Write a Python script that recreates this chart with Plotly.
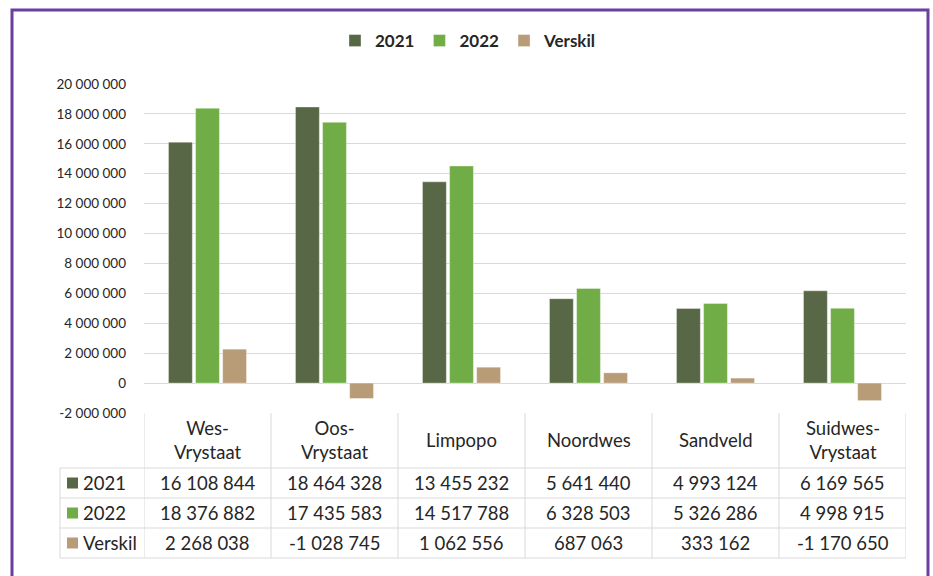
import plotly.graph_objects as go

# --- data ---
REGIONS = ["Wes-<br>Vrystaat", "Oos-<br>Vrystaat", "Limpopo", "Noordwes", "Sandveld", "Suidwes-<br>Vrystaat"]
SERIES = ["2021", "2022", "Verskil"]
VAL_2021 = [16108844, 18464328, 13455232, 5641440, 4993124, 6169565]
VAL_2022 = [18376882, 17435583, 14517788, 6328503, 5326286, 4998915]
VERSKIL = [2268038, -1028745, 1062556, 687063, 333162, -1170650]
Y_TICKS = [-2000000, 0, 2000000, 4000000, 6000000, 8000000, 10000000,
           12000000, 14000000, 16000000, 18000000, 20000000]

COLORS = ["#586746", "#70ad47", "#b89b77"]
TEXT = "#262626"
GRID = "#d9d9d9"
PURPLE = "#6b3fa0"
FONT = "Lato, sans-serif"

W, H = 933, 576
L, R, T, B = 144, 906, 84, 413   # plot area in pixels


def px(p):
    return (p - L) / (R - L)


def py(p):
    return (B - p) / (B - T)


def fmt(v):
    s = f"{abs(v):,}".replace(",", " ")
    return ("-" if v < 0 else "") + s


fig = go.Figure()
for name, vals, c in zip(SERIES, [VAL_2021, VAL_2022, VERSKIL], COLORS):
    fig.add_trace(go.Bar(
        x=REGIONS, y=vals, name=name, marker_color=c,
        marker_line=dict(color="rgba(255,255,255,0.6)", width=0.6),
    ))

shapes = []
annotations = []

# table grid
for i in range(len(REGIONS) + 1):
    shapes.append(dict(type="line", xref="x", yref="paper", x0=i - 0.5, x1=i - 0.5,
                       y0=py(413), y1=py(558), line=dict(color=GRID, width=1)))
shapes.append(dict(type="line", xref="paper", yref="paper", x0=px(60), x1=px(60),
                   y0=py(468), y1=py(558), line=dict(color=GRID, width=1)))
for yy in [468, 498, 528, 558]:
    shapes.append(dict(type="line", xref="paper", yref="paper", x0=px(60), x1=1,
                       y0=py(yy), y1=py(yy), line=dict(color=GRID, width=1)))

cell_font = dict(size=18.5, color=TEXT, family=FONT)

# header row: region names
for r in REGIONS:
    annotations.append(dict(x=r, xref="x", y=py(440), yref="paper", text=r, showarrow=False,
                            xanchor="center", yanchor="middle", font=cell_font, align="center"))

# data rows
for k, (name, vals, c) in enumerate(zip(SERIES, [VAL_2021, VAL_2022, VERSKIL], COLORS)):
    yc = 483 + 30 * k
    shapes.append(dict(type="rect", xref="paper", yref="paper", x0=px(67), x1=px(78),
                       y0=py(yc - 5.5), y1=py(yc + 5.5), fillcolor=c, line=dict(width=0)))
    annotations.append(dict(x=px(81), xref="paper", y=py(yc), yref="paper", text=name,
                            showarrow=False, xanchor="left", yanchor="middle", font=cell_font))
    for r, v in zip(REGIONS, vals):
        annotations.append(dict(x=r, xref="x", y=py(yc), yref="paper", text=fmt(v),
                                showarrow=False, xanchor="center", yanchor="middle",
                                font=cell_font))

# outer purple frame
shapes.append(dict(type="rect", xref="paper", yref="paper", x0=px(12), x1=px(928),
                   y0=py(640), y1=py(10), line=dict(color=PURPLE, width=3), layer="above"))

fig.update_layout(
    width=W, height=H,
    margin=dict(l=L, r=W - R, t=T, b=H - B),
    paper_bgcolor="white", plot_bgcolor="white",
    font=dict(family=FONT, color=TEXT, size=14),
    barmode="group", bargap=0.36, bargroupgap=0.12,
    showlegend=True,
    legend=dict(orientation="h", x=px(468), y=py(41), xanchor="center", yanchor="middle",
                font=dict(size=17, color=TEXT, family=FONT, weight="bold"),
                itemwidth=30, traceorder="normal"),
    xaxis=dict(range=[-0.5, 5.5], showticklabels=False, showgrid=False, zeroline=False,
               showline=False, fixedrange=True),
    yaxis=dict(range=[-2000000, 20000000], tickvals=Y_TICKS, ticktext=[fmt(v) for v in Y_TICKS],
               showgrid=True, gridcolor=GRID, gridwidth=1, zeroline=True, zerolinecolor=GRID,
               zerolinewidth=1, showline=False, ticks="", ticklabelstandoff=17,
               tickfont=dict(size=13.5, color=TEXT, family=FONT)),
    shapes=shapes,
    annotations=annotations,
)

# page body has a default 8px margin; drop it so the figure sits at the top-left corner
fig.write_html("out.html", config={"displayModeBar": False},
               post_script="document.body.style.margin='0';")
